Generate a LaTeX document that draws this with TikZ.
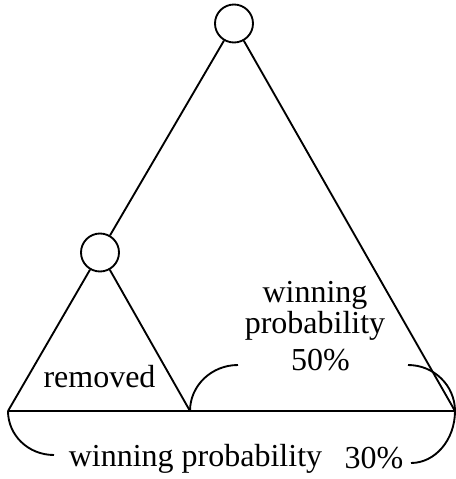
\documentclass[tikz,border=0pt]{standalone}
\usepackage{fontspec}
\setmainfont{Liberation Serif}
\begin{document}
\begin{tikzpicture}[x=0.75pt,y=-0.75pt,
  every path/.style={line width=1.4pt},
  vtx/.style={draw,circle,minimum size=28.5pt,inner sep=0pt,line width=1.4pt},
  lbl/.style={inner sep=0pt,anchor=base,font=\fontsize{24}{28}\selectfont}]
\useasboundingbox (0,0) rectangle (456,479);
\node[vtx] (ntop) at (234,23.5) {};
\node[vtx] (nleft) at (100,252.5) {};
\coordinate (A) at (8,411);
\coordinate (B) at (190,411);
\coordinate (C) at (455,411);
\coordinate (T1) at (238,365);
\coordinate (T2) at (408,365);
\coordinate (U1) at (54,455);
\coordinate (U2) at (411,463);
\draw (ntop) -- (nleft);
\draw (nleft) -- (A);
\draw (nleft) -- (B);
\draw (ntop) -- (C);
\draw (A) -- (C);
\draw (B) .. controls +(0,-25.4) and +(-26.5,0) .. (T1);
\draw (T2) .. controls +(26,0) and +(0,-25.4) .. (C);
\draw (A) .. controls +(0,24) and +(-26,0) .. (U1);
\draw (C) .. controls +(0,29) and +(24,0) .. (U2);
\node[lbl] (rem) at (99.5,387) {removed};
\node[lbl,align=center,font=\fontsize{24}{20.6}\selectfont] (upper) at (315,370)
  {winning\\probability\\[5.6pt]\hspace*{8pt}50\%};
\node[lbl] (w2) at (195.5,466) {winning probability};
\node[lbl] (t2) at (374,468) {30\%};
\end{tikzpicture}
\end{document}
